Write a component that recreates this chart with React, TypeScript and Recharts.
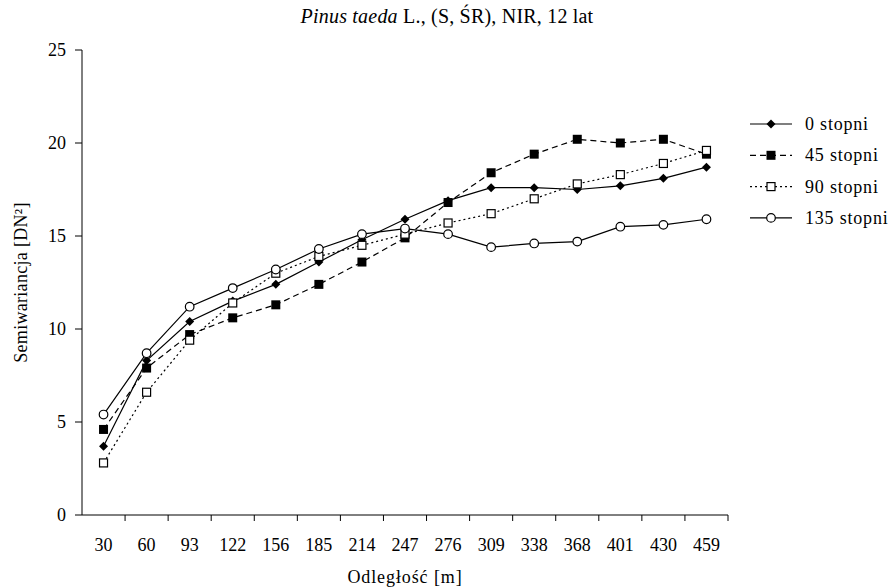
import React from 'react';
import { LineChart, Line, XAxis, YAxis } from 'recharts';

const distances = ['30', '60', '93', '122', '156', '185', '214', '247', '276', '309', '338', '368', '401', '430', '459'];
const deg0 = [3.7, 8.3, 10.4, 11.5, 12.4, 13.6, 14.8, 15.9, 16.9, 17.6, 17.6, 17.5, 17.7, 18.1, 18.7];
const deg45 = [4.6, 7.9, 9.7, 10.6, 11.3, 12.4, 13.6, 14.9, 16.8, 18.4, 19.4, 20.2, 20.0, 20.2, 19.4];
const deg90 = [2.8, 6.6, 9.4, 11.4, 13.0, 13.9, 14.5, 15.1, 15.7, 16.2, 17.0, 17.8, 18.3, 18.9, 19.6];
const deg135 = [5.4, 8.7, 11.2, 12.2, 13.2, 14.3, 15.1, 15.4, 15.1, 14.4, 14.6, 14.7, 15.5, 15.6, 15.9];
const seriesNames = ['0 stopni', '45 stopni', '90 stopni', '135 stopni'];
const yTicks = [0, 5, 10, 15, 20, 25];
const boundaryTicks = [1, 2, 3, 4, 5, 6, 7, 8, 9, 10, 11, 12, 13, 14, 15];

const data = distances.map((d, i) => ({
  dist: d,
  pos: i + 0.5,
  s0: deg0[i],
  s45: deg45[i],
  s90: deg90[i],
  s135: deg135[i],
}));

const FONT = 'Liberation Serif';

type Shape = 'diamond' | 'square' | 'openSquare' | 'circle';

function marker(shape: Shape, cx: number, cy: number, key?: string) {
  if (shape === 'diamond') {
    const r = 4.5;
    return <path key={key} d={`M${cx},${cy - r}L${cx + r},${cy}L${cx},${cy + r}L${cx - r},${cy}Z`} fill="#000" stroke="none" />;
  }
  if (shape === 'square') {
    return <rect key={key} x={cx - 4.5} y={cy - 4.5} width={9} height={9} fill="#000" stroke="none" />;
  }
  if (shape === 'openSquare') {
    return <rect key={key} x={cx - 4} y={cy - 4} width={8} height={8} fill="#fff" stroke="#000" strokeWidth={1.2} />;
  }
  return <circle key={key} cx={cx} cy={cy} r={4.3} fill="#fff" stroke="#000" strokeWidth={1.2} />;
}

const makeDot = (shape: Shape, prefix: string) => (props: any) => {
  const { cx, cy, index } = props;
  if (cx == null || cy == null) return <g key={`${prefix}-${index}`} />;
  return marker(shape, cx, cy, `${prefix}-${index}`);
};

const legendItems: { name: string; dash?: string; shape: Shape }[] = [
  { name: seriesNames[0], shape: 'diamond' },
  { name: seriesNames[1], dash: '6 4', shape: 'square' },
  { name: seriesNames[2], dash: '2 3', shape: 'openSquare' },
  { name: seriesNames[3], shape: 'circle' },
];

export default function App() {
  return (
    <div style={{ position: 'absolute', left: 0, top: 0, width: 891, height: 588, background: '#fff', fontFamily: FONT }}>
      <LineChart
        width={891}
        height={588}
        data={data}
        margin={{ top: 50, right: 163, bottom: 0, left: 0 }}
        style={{ fontFamily: FONT }}
      >
        <XAxis
          xAxisId="b"
          dataKey="dist"
          type="category"
          scale="band"
          axisLine={false}
          tickLine={false}
          interval={0}
          height={58}
          tick={{ fill: '#000', fontSize: 18, fontFamily: FONT }}
          label={{ value: 'Odległość [m]', position: 'insideBottom', offset: 5, fill: '#000', fontSize: 18, fontFamily: FONT, letterSpacing: 0.9 }}
        />
        <XAxis
          xAxisId="a"
          dataKey="pos"
          type="number"
          domain={[0, 15]}
          ticks={boundaryTicks}
          allowDataOverflow
          tickFormatter={() => ''}
          height={15}
          stroke="#000"
          tickSize={6}
        />
        <YAxis
          type="number"
          domain={[0, 25]}
          ticks={yTicks}
          width={82}
          stroke="#000"
          tickSize={7}
          tickMargin={9}
          tick={{ fill: '#000', fontSize: 18, fontFamily: FONT }}
          label={{
            value: 'Semiwariancja [DN²]',
            angle: -90,
            position: 'insideLeft',
            offset: 21,
            style: { textAnchor: 'middle' },
            fill: '#000',
            fontSize: 18,
            fontFamily: FONT,
            letterSpacing: 0.3,
          }}
        />
        <Line xAxisId="b" dataKey="s0" name={seriesNames[0]} stroke="#000" strokeWidth={1.2} isAnimationActive={false} dot={makeDot('diamond', 'a')} activeDot={false} />
        <Line xAxisId="b" dataKey="s45" name={seriesNames[1]} stroke="#000" strokeWidth={1.2} strokeDasharray="6 4" isAnimationActive={false} dot={makeDot('square', 'b')} activeDot={false} />
        <Line xAxisId="b" dataKey="s90" name={seriesNames[2]} stroke="#000" strokeWidth={1.2} strokeDasharray="2 3" isAnimationActive={false} dot={makeDot('openSquare', 'c')} activeDot={false} />
        <Line xAxisId="b" dataKey="s135" name={seriesNames[3]} stroke="#000" strokeWidth={1.2} isAnimationActive={false} dot={makeDot('circle', 'd')} activeDot={false} />
      </LineChart>
      <svg width={891} height={588} style={{ position: 'absolute', left: 0, top: 0, pointerEvents: 'none' }}>
        <text x={447} y={23} textAnchor="middle" fontFamily={FONT} fontSize={20} letterSpacing={0.2} fill="#000">
          <tspan fontStyle="italic">Pinus taeda</tspan>
          <tspan>{'  L., (S, ŚR), NIR, 12 lat'}</tspan>
        </text>
        {legendItems.map((it, i) => {
          const y = 124 + i * 31.3;
          return (
            <g key={it.name}>
              <line x1={750} x2={792} y1={y} y2={y} stroke="#000" strokeWidth={1.2} strokeDasharray={it.dash} />
              {marker(it.shape, 771, y)}
              <text x={805} y={y + 6} fontFamily={FONT} fontSize={18} letterSpacing={0.8} fill="#000">{it.name}</text>
            </g>
          );
        })}
      </svg>
    </div>
  );
}
